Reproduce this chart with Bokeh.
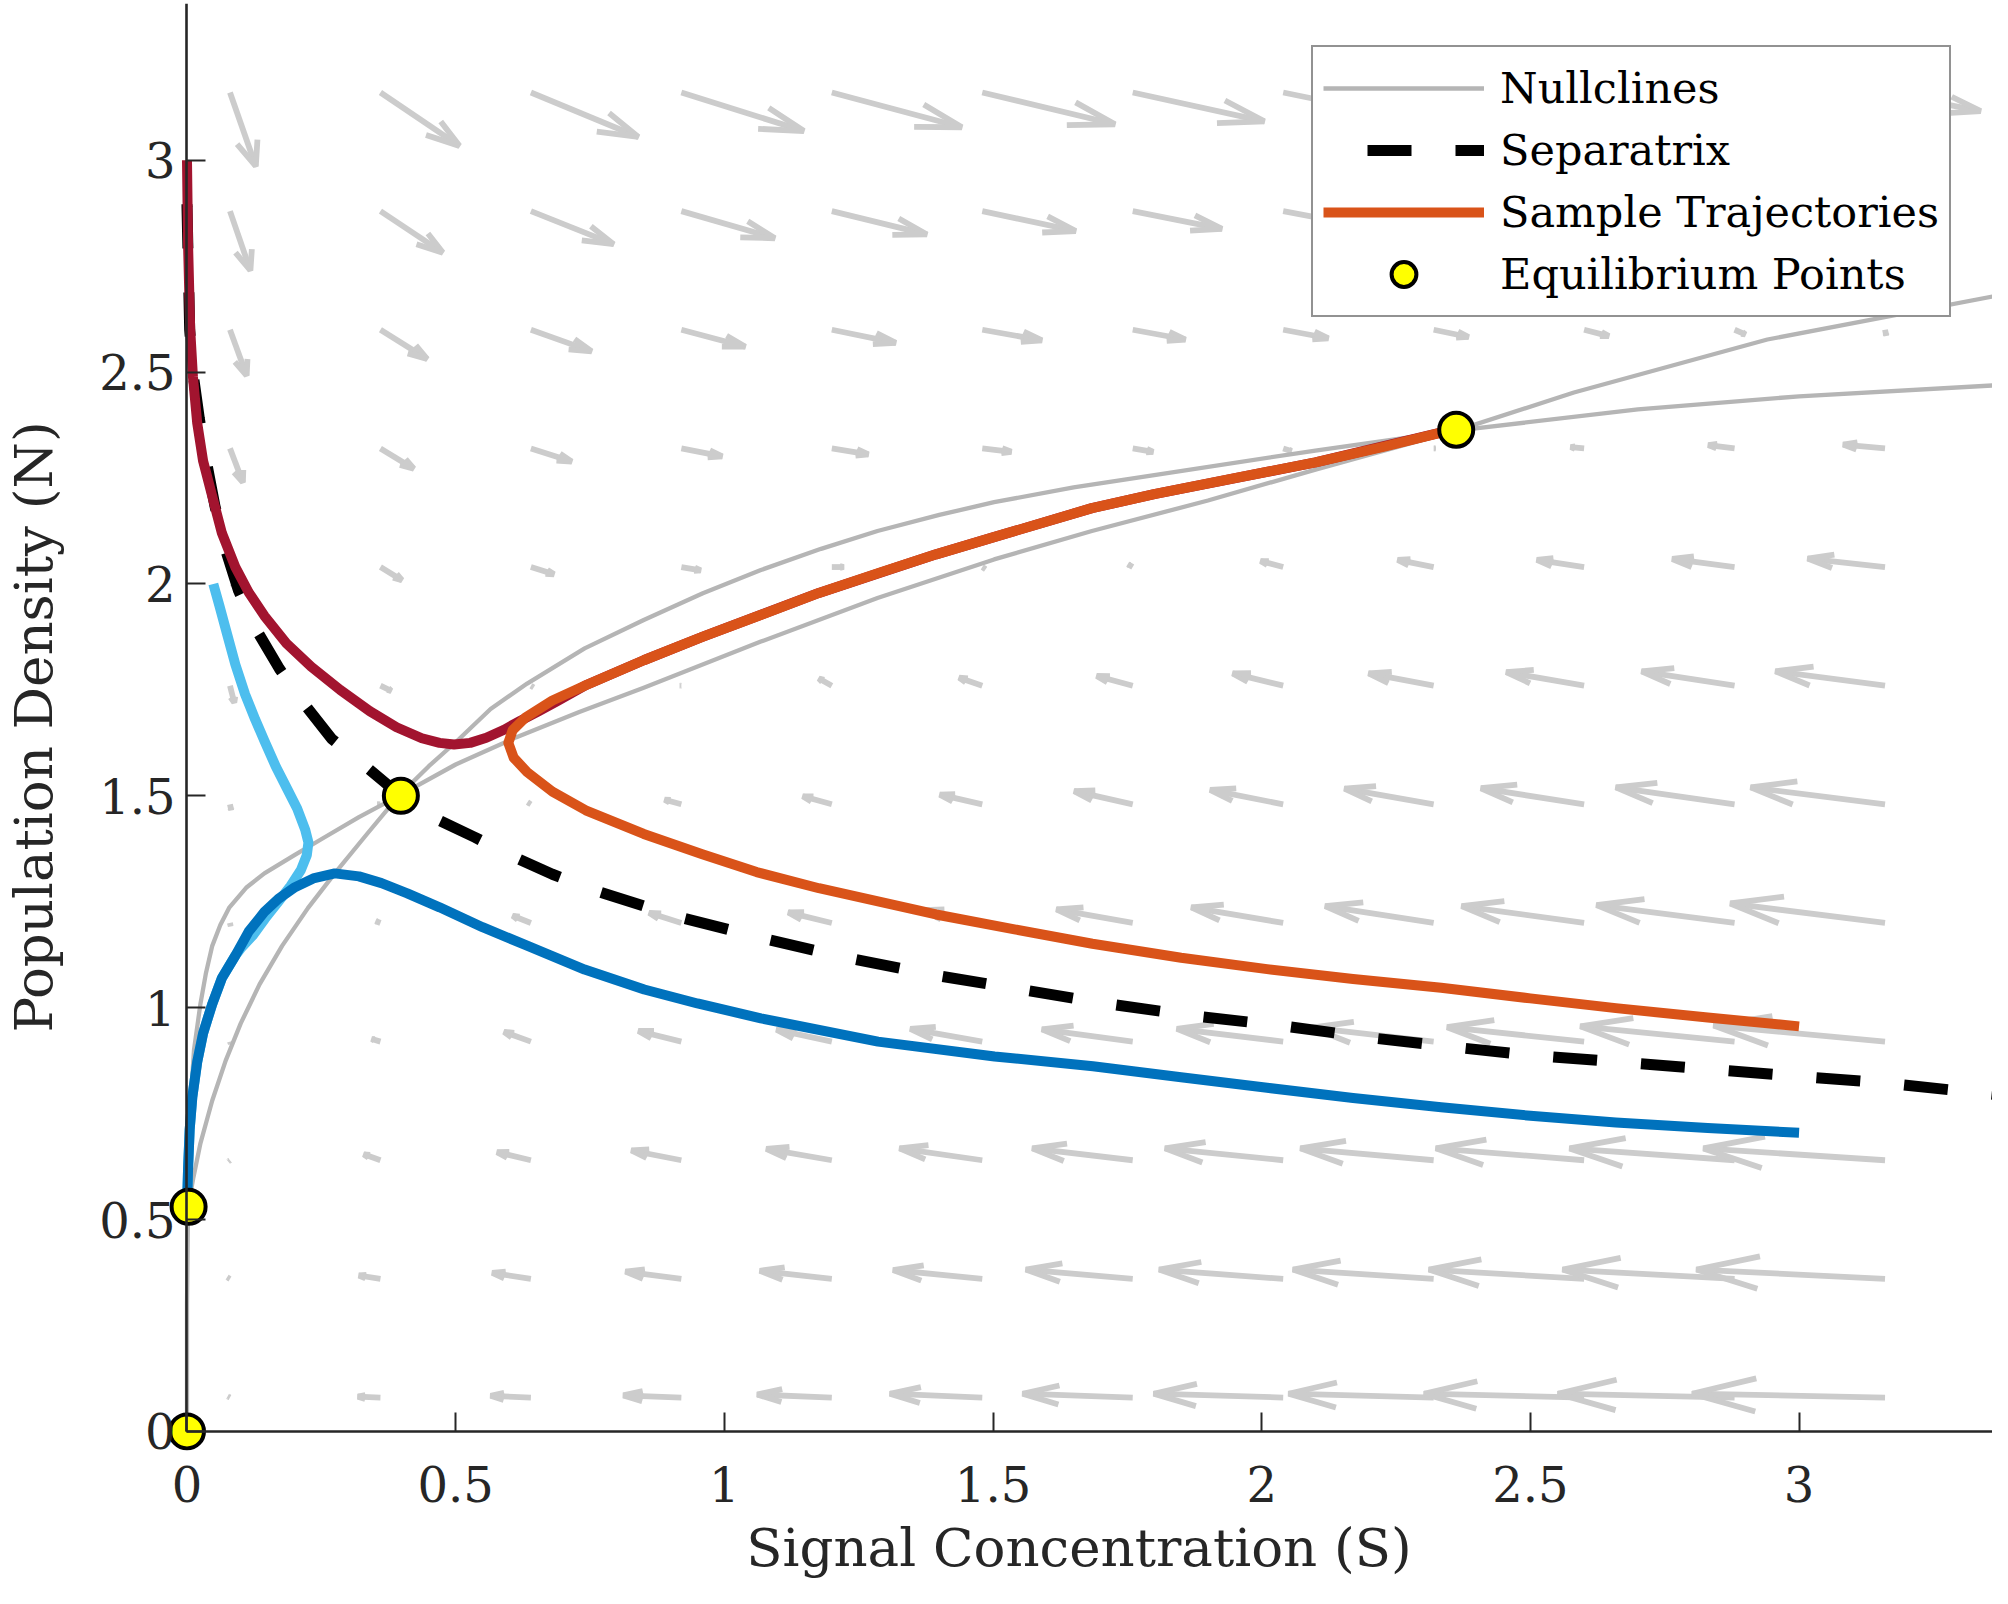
import numpy as np
from bokeh.plotting import figure
from bokeh.models import Range1d, FixedTicker, Legend, LegendItem, LinearAxis
from bokeh.embed import file_html
from bokeh.resources import INLINE

FONT = "DejaVu Serif"
AXIS = "#262626"
ARROW = "#cccccc"
NULL_GRAY = "#b5b5b5"

# direction field grid (signal S across, population N up)
s_grid = [0.08, 0.36, 0.64, 0.92, 1.20, 1.48, 1.76, 2.04, 2.32, 2.60, 2.88, 3.16]
n_grid = [0.08, 0.36, 0.64, 0.92, 1.20, 1.48, 1.76, 2.04, 2.32, 2.60, 2.88, 3.16]

# scaled arrow components, one row per n_grid value (bottom row first)
dS = [
    [-0.003, -0.042, -0.075, -0.108, -0.139, -0.172, -0.205, -0.241, -0.270, -0.298, -0.329, -0.359],
    [-0.004, -0.040, -0.072, -0.104, -0.134, -0.166, -0.199, -0.231, -0.262, -0.289, -0.320, -0.351],
    [-0.002, -0.031, -0.063, -0.093, -0.122, -0.154, -0.187, -0.220, -0.248, -0.276, -0.307, -0.338],
    [0.001, -0.016, -0.050, -0.080, -0.103, -0.134, -0.169, -0.198, -0.227, -0.255, -0.287, -0.319],
    [0.001, -0.008, -0.034, -0.060, -0.081, -0.110, -0.142, -0.171, -0.202, -0.228, -0.257, -0.288],
    [0.002, -0.005, -0.005, -0.031, -0.054, -0.079, -0.109, -0.136, -0.166, -0.192, -0.221, -0.250],
    [0.008, 0.020, 0.004, -0.002, -0.024, -0.043, -0.067, -0.094, -0.121, -0.145, -0.173, -0.204],
    [0.015, 0.040, 0.043, 0.036, 0.022, 0.005, -0.008, -0.042, -0.067, -0.088, -0.116, -0.144],
    [0.024, 0.062, 0.076, 0.076, 0.068, 0.054, 0.038, 0.015, 0.003, -0.025, -0.049, -0.078],
    [0.031, 0.087, 0.113, 0.119, 0.119, 0.111, 0.098, 0.084, 0.065, 0.046, 0.020, 0.002],
    [0.038, 0.116, 0.154, 0.174, 0.177, 0.174, 0.166, 0.155, 0.140, 0.122, 0.100, 0.078],
    [0.048, 0.147, 0.200, 0.228, 0.242, 0.247, 0.245, 0.238, 0.228, 0.215, 0.198, 0.178],
]
dN = [
    [0.002, 0.002, 0.004, 0.005, 0.007, 0.009, 0.009, 0.009, 0.009, 0.009, 0.009, 0.009],
    [0.003, 0.008, 0.014, 0.017, 0.019, 0.021, 0.022, 0.022, 0.022, 0.022, 0.022, 0.022],
    [-0.002, 0.014, 0.019, 0.023, 0.027, 0.028, 0.028, 0.028, 0.028, 0.028, 0.028, 0.028],
    [-0.004, 0.006, 0.023, 0.025, 0.028, 0.030, 0.029, 0.030, 0.033, 0.034, 0.036, 0.038],
    [-0.006, 0.004, 0.017, 0.024, 0.025, 0.030, 0.032, 0.037, 0.040, 0.040, 0.042, 0.046],
    [-0.012, 0.000, 0.004, 0.011, 0.019, 0.023, 0.031, 0.034, 0.037, 0.038, 0.040, 0.040],
    [-0.040, -0.012, -0.003, 0.000, 0.017, 0.019, 0.023, 0.029, 0.029, 0.032, 0.034, 0.034],
    [-0.055, -0.031, -0.017, -0.008, 0.000, -0.004, 0.006, 0.014, 0.017, 0.017, 0.019, 0.020],
    [-0.080, -0.048, -0.031, -0.019, -0.014, -0.008, -0.008, -0.006, 0.000, 0.003, 0.008, 0.009],
    [-0.108, -0.069, -0.051, -0.040, -0.031, -0.025, -0.023, -0.020, -0.017, -0.015, -0.011, -0.012],
    [-0.140, -0.098, -0.078, -0.064, -0.055, -0.047, -0.042, -0.037, -0.033, -0.030, -0.027, -0.025],
    [-0.174, -0.126, -0.105, -0.091, -0.082, -0.075, -0.068, -0.062, -0.057, -0.052, -0.048, -0.044],
]

# nullclines
null_s_x = [0.0, 0.0, 0.002, 0.004, 0.007, 0.013, 0.025, 0.035, 0.047, 0.062, 0.079, 0.11, 0.144,
            0.2, 0.253, 0.32, 0.394, 0.5, 0.612, 0.73, 0.85, 1.068, 1.285, 1.502, 1.684, 1.9,
            2.1, 2.362, 2.581, 2.941, 3.366]
null_s_y = [0.0, 0.3, 0.53, 0.65, 0.78, 0.9, 1.009, 1.08, 1.146, 1.195, 1.237, 1.283, 1.317,
            1.36, 1.40, 1.45, 1.5, 1.574, 1.638, 1.698, 1.755, 1.864, 1.967, 2.058, 2.125, 2.197,
            2.27, 2.362, 2.452, 2.577, 2.68]
null_n_x = [0.002, 0.012, 0.025, 0.047, 0.072, 0.1, 0.135, 0.177, 0.225, 0.275, 0.335, 0.394,
            0.45, 0.503, 0.565, 0.633, 0.74, 0.85, 0.96, 1.068, 1.18, 1.285, 1.4, 1.502, 1.65,
            1.8, 2.1, 2.362, 2.7, 3.0, 3.366]
null_n_y = [0.53, 0.6, 0.68, 0.781, 0.875, 0.963, 1.055, 1.146, 1.235, 1.317, 1.41, 1.5,
            1.57, 1.63, 1.705, 1.765, 1.848, 1.915, 1.978, 2.033, 2.083, 2.125, 2.163, 2.193, 2.228,
            2.257, 2.315, 2.362, 2.412, 2.443, 2.469]

# separatrix
sep_x = [0.0, 0.0, 0.005, 0.012, 0.023, 0.036, 0.052, 0.072, 0.096, 0.13, 0.172, 0.215, 0.269,
         0.329, 0.398, 0.46, 0.536, 0.606, 0.68, 0.758, 0.916, 1.074, 1.231, 1.391, 1.552, 1.714,
         1.878, 2.04, 2.203, 2.365, 2.5, 2.653, 2.815, 2.98, 3.145, 3.366]
sep_y = [3.0, 2.89, 2.6, 2.49, 2.39, 2.29, 2.184, 2.08, 1.984, 1.89, 1.8, 1.722, 1.635,
         1.573, 1.5, 1.448, 1.402, 1.357, 1.315, 1.277, 1.214, 1.163, 1.117, 1.077, 1.043, 1.009,
         0.98, 0.957, 0.929, 0.906, 0.888, 0.873, 0.857, 0.84, 0.824, 0.795]

# sample trajectories
orange_x = [3.0, 2.83, 2.659, 2.5, 2.334, 2.17, 2.01, 1.85, 1.685, 1.54, 1.394, 1.176, 1.06, 0.959,
            0.85, 0.742, 0.68, 0.633, 0.608, 0.598, 0.606, 0.63, 0.68, 0.742, 0.85, 0.959, 1.07,
            1.176, 1.29, 1.394, 1.5, 1.684, 1.8, 1.95, 2.1, 2.23, 2.362]
orange_y = [0.956, 0.977, 0.999, 1.022, 1.047, 1.068, 1.091, 1.118, 1.151, 1.185, 1.22, 1.282, 1.32,
            1.362, 1.41, 1.466, 1.51, 1.556, 1.59, 1.625, 1.655, 1.685, 1.725, 1.761, 1.82, 1.875,
            1.928, 1.979, 2.027, 2.07, 2.11, 2.179, 2.212, 2.25, 2.287, 2.325, 2.366]
red_x = [0.0, 0.001, 0.002, 0.004, 0.006, 0.011, 0.019, 0.03, 0.047, 0.065, 0.09, 0.115, 0.144,
         0.185, 0.231, 0.285, 0.34, 0.39, 0.437, 0.47, 0.497, 0.527, 0.557, 0.59, 0.62, 0.655,
         0.69, 0.742, 0.85, 0.959, 1.176, 1.394, 1.5, 1.684, 1.8, 2.1, 2.362]
red_y = [3.0, 2.9, 2.8, 2.7, 2.6, 2.49, 2.38, 2.29, 2.207, 2.12, 2.04, 1.98, 1.925,
         1.86, 1.805, 1.75, 1.70, 1.662, 1.636, 1.625, 1.621, 1.625, 1.637, 1.656, 1.677, 1.70,
         1.724, 1.761, 1.82, 1.875, 1.979, 2.07, 2.11, 2.179, 2.212, 2.287, 2.366]
blue_x = [3.0, 2.83, 2.659, 2.5, 2.334, 2.17, 2.01, 1.85, 1.686, 1.503, 1.286, 1.068, 0.95, 0.851,
          0.74, 0.634, 0.55, 0.47, 0.41, 0.362, 0.32, 0.275, 0.235, 0.199, 0.17, 0.144, 0.115,
          0.09, 0.065, 0.047, 0.03, 0.019, 0.01, 0.005, 0.002, 0.0]
blue_y = [0.705, 0.716, 0.729, 0.745, 0.765, 0.787, 0.811, 0.836, 0.862, 0.885, 0.92, 0.975, 1.01,
          1.043, 1.09, 1.146, 1.19, 1.237, 1.27, 1.294, 1.31, 1.317, 1.305, 1.283, 1.257, 1.226,
          1.18, 1.123, 1.07, 1.009, 0.94, 0.872, 0.79, 0.713, 0.62, 0.53]
light_x = [0.049, 0.06, 0.075, 0.09, 0.108, 0.127, 0.144, 0.165, 0.185, 0.205, 0.22, 0.226, 0.223,
           0.212, 0.193, 0.17, 0.145, 0.122, 0.1, 0.09, 0.065, 0.047, 0.03, 0.019, 0.01, 0.005,
           0.002, 0.0]
light_y = [2.0, 1.95, 1.88, 1.81, 1.74, 1.68, 1.63, 1.57, 1.52, 1.47, 1.42, 1.39, 1.36,
           1.325, 1.288, 1.25, 1.21, 1.17, 1.14, 1.123, 1.07, 1.009, 0.94, 0.872, 0.79, 0.713,
           0.62, 0.53]

# equilibrium points
eq_s = [0.0, 0.003, 0.398, 2.362]
eq_n = [0.0, 0.53, 1.5, 2.364]

tick_vals = [0, 0.5, 1, 1.5, 2, 2.5, 3]
tick_text = ["0", "0.5", "1", "1.5", "2", "2.5", "3"]

# quiver geometry, same head shape as matlab (alpha = beta = 0.33)
S, N = np.meshgrid(s_grid, n_grid)
x0, y0 = S.ravel(), N.ravel()
u, v = np.array(dS).ravel(), np.array(dN).ravel()
x1, y1 = x0 + u, y0 + v
a, b = 0.33, 0.33
head_xs = [[x1[i] - a * (u[i] + b * v[i]), x1[i], x1[i] - a * (u[i] - b * v[i])] for i in range(len(u))]
head_ys = [[y1[i] - a * (v[i] - b * u[i]), y1[i], y1[i] - a * (v[i] + b * u[i])] for i in range(len(u))]

p = figure(width=1992, height=1588, x_range=Range1d(-0.04, 3.36), y_range=Range1d(-0.045, 3.37),
           output_backend="svg", toolbar_location=None,
           min_border_left=165, min_border_right=0, min_border_top=3, min_border_bottom=138)
p.grid.visible = False
p.outline_line_color = None
p.background_fill_color = "white"

p.segment(x0, y0, x1, y1, line_color=ARROW, line_width=5.8)
p.multi_line(head_xs, head_ys, line_color=ARROW, line_width=5.8)

r_null = p.line(null_s_x, null_s_y, line_color=NULL_GRAY, line_width=4.3, line_join="round")
p.line(null_n_x, null_n_y, line_color=NULL_GRAY, line_width=4.3, line_join="round")

r_sep = p.line(sep_x, sep_y, line_color="black", line_width=11, line_dash="44 44", line_dash_offset=44)

p.line(light_x, light_y, line_color="#4DBEEE", line_width=10, line_join="round")
p.line(blue_x, blue_y, line_color="#0072BD", line_width=10, line_join="round")
p.line(red_x, red_y, line_color="#A2142F", line_width=10, line_join="round")
r_traj = p.line(orange_x, orange_y, line_color="#D95319", line_width=10, line_join="round")

r_eq = p.scatter(eq_s, eq_n, size=34, fill_color="#FFFF00", line_color="black", line_width=4)

# the default axes only carry the text, sitting in the side panels
for ax in (p.xaxis[0], p.yaxis[0]):
    ax.ticker = FixedTicker(ticks=tick_vals)
    ax.major_label_overrides = dict(zip(tick_vals, tick_text))
    ax.axis_line_color = None
    ax.major_tick_line_color = None
    ax.minor_tick_line_color = None
    ax.major_tick_in = 0
    ax.major_tick_out = 0
    ax.major_label_text_font = FONT
    ax.major_label_text_font_size = "48px"
    ax.major_label_text_color = AXIS
    ax.axis_label_text_font = FONT
    ax.axis_label_text_font_size = "53px"
    ax.axis_label_text_font_style = "normal"
    ax.axis_label_text_color = AXIS
p.xaxis.axis_label = "Signal Concentration (S)"
p.yaxis.axis_label = "Population Density (N)"
p.xaxis.major_label_standoff = 15
p.yaxis.major_label_standoff = -10
p.xaxis.axis_label_standoff = 12
p.yaxis.axis_label_standoff = 32

# axis lines and inward ticks pinned at S = 0 and N = 0
for side, bounds in (("below", (0, 3.36)), ("left", (0, 3.37))):
    ax = LinearAxis(fixed_location=0, bounds=bounds, ticker=FixedTicker(ticks=tick_vals))
    ax.major_tick_in = 19
    ax.major_tick_out = 0
    ax.minor_tick_line_color = None
    ax.axis_line_width = 2.6
    ax.axis_line_color = AXIS
    ax.major_tick_line_color = AXIS
    ax.major_tick_line_width = 2
    ax.major_label_text_alpha = 0
    p.add_layout(ax, side)

legend = Legend(items=[
    LegendItem(label="Nullclines", renderers=[r_null]),
    LegendItem(label="Separatrix", renderers=[r_sep]),
    LegendItem(label="Sample Trajectories", renderers=[r_traj]),
    LegendItem(label="Equilibrium Points", renderers=[r_eq]),
], location=(1146, 1133))
legend.label_text_font = FONT
legend.label_text_font_size = "43px"
legend.label_text_color = "black"
legend.glyph_width = 161
legend.glyph_height = 62
legend.label_height = 62
legend.label_standoff = 16
legend.spacing = 0
legend.padding = 10
legend.margin = 0
legend.border_line_color = AXIS
legend.border_line_width = 2.5
legend.background_fill_color = "white"
legend.background_fill_alpha = 1.0
p.add_layout(legend)

open("out.html", "w").write(file_html(p, INLINE))
